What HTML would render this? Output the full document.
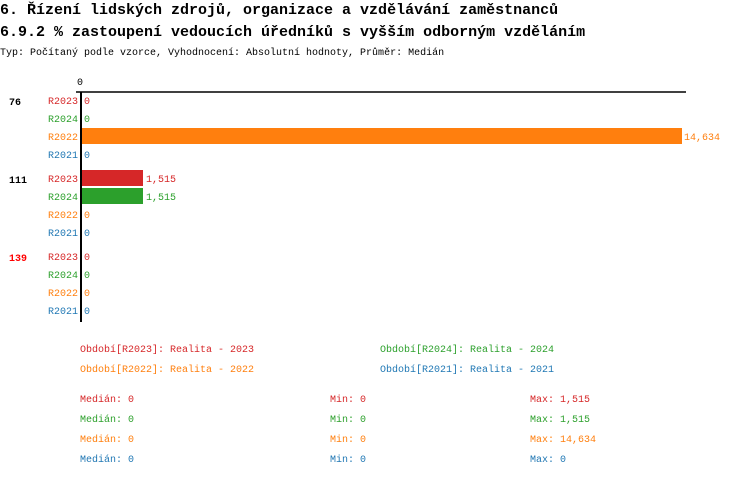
<!DOCTYPE html>
<html><head><meta charset="utf-8"><style>
body{margin:0;background:#fff;}
svg text{font-family:"Liberation Mono","DejaVu Sans Mono",monospace;}
</style></head><body>
<svg width="750" height="476" xmlns="http://www.w3.org/2000/svg">
<rect width="750" height="476" fill="#fff"/>
<text x="0" y="14" font-size="15" font-weight="bold" fill="#000">6. Řízení lidských zdrojů, organizace a vzdělávání zaměstnanců</text>
<text x="0" y="36" font-size="15" font-weight="bold" fill="#000">6.9.2 % zastoupení vedoucích úředníků s vyšším odborným vzděláním</text>
<text x="0" y="55" font-size="10" fill="#000">Typ: Počítaný podle vzorce, Vyhodnocení: Absolutní hodnoty, Průměr: Medián</text>
<text x="80" y="85" font-size="10" text-anchor="middle" fill="#000">0</text>
<line x1="76" y1="92" x2="686" y2="92" stroke="#000" stroke-width="1.5"/>
<line x1="81" y1="92" x2="81" y2="322" stroke="#000" stroke-width="2"/>
<rect x="82" y="128" width="600" height="16" fill="#ff7f0e"/>
<rect x="82" y="170" width="61" height="16" fill="#d62728"/>
<rect x="82" y="188" width="61" height="16" fill="#2ca02c"/>
<g font-size="10">
<text x="9" y="105" font-weight="bold" fill="#000">76</text>
<text x="9" y="183" font-weight="bold" fill="#000">111</text>
<text x="9" y="261" font-weight="bold" fill="#f00">139</text>
<g text-anchor="end">
<text x="78" y="104" fill="#d62728">R2023</text>
<text x="78" y="122" fill="#2ca02c">R2024</text>
<text x="78" y="140" fill="#ff7f0e">R2022</text>
<text x="78" y="158" fill="#1f77b4">R2021</text>
<text x="78" y="182" fill="#d62728">R2023</text>
<text x="78" y="200" fill="#2ca02c">R2024</text>
<text x="78" y="218" fill="#ff7f0e">R2022</text>
<text x="78" y="236" fill="#1f77b4">R2021</text>
<text x="78" y="260" fill="#d62728">R2023</text>
<text x="78" y="278" fill="#2ca02c">R2024</text>
<text x="78" y="296" fill="#ff7f0e">R2022</text>
<text x="78" y="314" fill="#1f77b4">R2021</text>
</g>
<text x="84" y="104" fill="#d62728">0</text>
<text x="84" y="122" fill="#2ca02c">0</text>
<text x="684" y="140" fill="#ff7f0e">14,634</text>
<text x="84" y="158" fill="#1f77b4">0</text>
<text x="146" y="182" fill="#d62728">1,515</text>
<text x="146" y="200" fill="#2ca02c">1,515</text>
<text x="84" y="218" fill="#ff7f0e">0</text>
<text x="84" y="236" fill="#1f77b4">0</text>
<text x="84" y="260" fill="#d62728">0</text>
<text x="84" y="278" fill="#2ca02c">0</text>
<text x="84" y="296" fill="#ff7f0e">0</text>
<text x="84" y="314" fill="#1f77b4">0</text>
<text x="80" y="352" fill="#d62728">Období[R2023]: Realita - 2023</text>
<text x="380" y="352" fill="#2ca02c">Období[R2024]: Realita - 2024</text>
<text x="80" y="372" fill="#ff7f0e">Období[R2022]: Realita - 2022</text>
<text x="380" y="372" fill="#1f77b4">Období[R2021]: Realita - 2021</text>
<text x="80" y="402" fill="#d62728">Medián: 0</text>
<text x="330" y="402" fill="#d62728">Min: 0</text>
<text x="530" y="402" fill="#d62728">Max: 1,515</text>
<text x="80" y="422" fill="#2ca02c">Medián: 0</text>
<text x="330" y="422" fill="#2ca02c">Min: 0</text>
<text x="530" y="422" fill="#2ca02c">Max: 1,515</text>
<text x="80" y="442" fill="#ff7f0e">Medián: 0</text>
<text x="330" y="442" fill="#ff7f0e">Min: 0</text>
<text x="530" y="442" fill="#ff7f0e">Max: 14,634</text>
<text x="80" y="462" fill="#1f77b4">Medián: 0</text>
<text x="330" y="462" fill="#1f77b4">Min: 0</text>
<text x="530" y="462" fill="#1f77b4">Max: 0</text>
</g>
</svg>
</body></html>
